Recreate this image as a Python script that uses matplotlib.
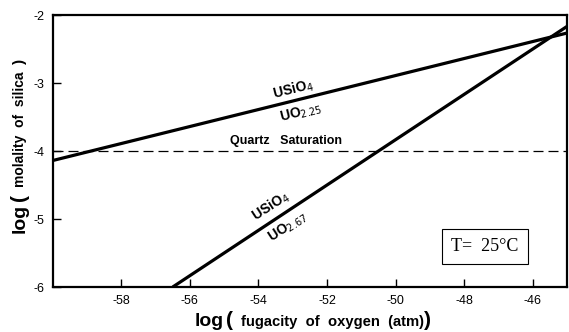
#! /usr/bin/env python3
# Stability of USiO4 vs uranium oxides as a function of oxygen fugacity.
import matplotlib
matplotlib.use('Agg')
import matplotlib.pyplot as plt
import numpy as np

# data
xEnds = [-60.0, -45.0]
upperLine = [-4.14, -2.265]      # USiO4 / UO2.25
lowerX = [-56.5, -45.0]
lowerLine = [-6.0, -2.167]       # USiO4 / UO2.67
quartzSat = -4.0
xTicks = [-58, -56, -54, -52, -50, -48, -46]
yTicks = [-6, -5, -4, -3, -2]

def main():
  plt.rcParams['font.family'] = ['Liberation Sans', 'DejaVu Sans']
  fig = plt.figure(figsize=(5.69, 3.32), dpi=100)
  ax = fig.add_axes([0.0926, 0.1355, 0.904, 0.8193])

  ax.plot(xEnds, upperLine, 'k-', lw=2.3, solid_capstyle='butt')
  ax.plot(lowerX, lowerLine, 'k-', lw=2.3, solid_capstyle='butt')
  ax.axhline(quartzSat, color='k', lw=0.9, ls=(0, (8, 4)))

  ax.set_xlim(-60, -45)
  ax.set_ylim(-6, -2)
  ax.set_xticks(xTicks)
  ax.set_xticklabels([str(t) for t in xTicks], fontsize=9)
  ax.set_yticks(yTicks)
  ax.set_yticklabels([str(t) for t in yTicks], fontsize=9)
  ax.tick_params(direction='in', length=6, width=1.0, pad=6)
  for s in ax.spines.values():
    s.set_linewidth(1.6)

  # labels along the lines
  ax.text(-53.0, -3.10, r'USiO$_4$', rotation=14, ha='center', va='center',
          fontsize=10, fontweight='bold')
  ax.text(-52.75, -3.44, r'UO$_{2.25}$', rotation=14, ha='center', va='center',
          fontsize=10, fontweight='bold')
  ax.text(-53.2, -3.86, 'Quartz   Saturation', ha='center', va='center',
          fontsize=9, fontweight='bold')
  ax.text(-53.65, -4.82, r'USiO$_4$', rotation=33, ha='center', va='center',
          fontsize=10, fontweight='bold')
  ax.text(-53.15, -5.12, r'UO$_{2.67}$', rotation=33, ha='center', va='center',
          fontsize=10, fontweight='bold')

  # temperature box
  ax.text(-47.39, -5.41, 'T=  25\u00b0C', ha='center', va='center',
          fontsize=13, family='Liberation Serif',
          bbox=dict(boxstyle='square,pad=0.5', fc='white', ec='k', lw=0.8))

  # axis labels, built from pieces of different size
  W, H = 569.0, 332.0
  fig.text(195/W, 1-322/H, 'log', fontsize=14, fontweight='bold', va='center')
  fig.text(226/W, 1-320/H, '(', fontsize=15, fontweight='bold', va='center')
  fig.text(241/W, 1-322/H, 'fugacity  of  oxygen  (atm)', fontsize=10.6,
           fontweight='bold', va='center')
  fig.text(424/W, 1-320/H, ')', fontsize=15, fontweight='bold', va='center')

  fig.text(20/W, 1-233/H, 'log', fontsize=14, fontweight='bold', ha='center',
           va='bottom', rotation=90)
  fig.text(20/W, 1-201/H, '(', fontsize=15, fontweight='bold', ha='center',
           va='bottom', rotation=90)
  fig.text(20/W, 1-187/H, 'molality  of  silica', fontsize=10, fontweight='bold',
           ha='center', va='bottom', rotation=90)
  fig.text(20/W, 1-64/H, ')', fontsize=11, fontweight='bold', ha='center',
           va='bottom', rotation=90)

  fig.savefig('out.png', dpi=100)

if __name__ == '__main__':
  main()
